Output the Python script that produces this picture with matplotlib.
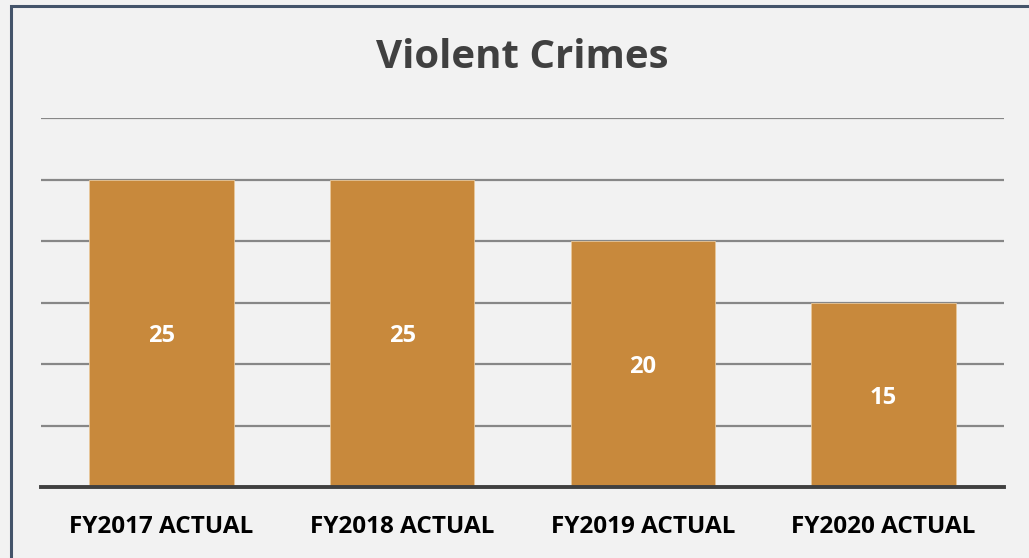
import matplotlib.pyplot as plt
from matplotlib.patches import Rectangle

categories = ['FY2017 ACTUAL', 'FY2018 ACTUAL', 'FY2019 ACTUAL', 'FY2020 ACTUAL']
values = [25, 25, 20, 15]

plt.rcParams['font.family'] = ['Open Sans', 'DejaVu Sans']

fig = plt.figure(figsize=(10.29, 5.58), dpi=100)
fig.patch.set_facecolor('#f2f2f2')

# outer frame of the chart box (runs off the right and bottom edges)
fig.patches.append(Rectangle((11 / 1029, -0.1), 1.2, 0.1 + (558 - 6) / 558,
                             transform=fig.transFigure, fill=False,
                             edgecolor='#44546a', linewidth=2.2))

ax = fig.add_axes([41 / 1029, 71 / 558, 963 / 1029, 369 / 558])
ax.set_facecolor('#f2f2f2')

x = range(len(categories))
bars = ax.bar(x, values, width=0.6, color='#c8893c', edgecolor='#e8c79a',
              linewidth=0.6, zorder=3)

for b, v in zip(bars, values):
    ax.text(b.get_x() + b.get_width() / 2, v / 2, str(v), ha='center',
            va='center_baseline', color='white', fontsize=17,
            fontweight='bold', zorder=4)

ax.set_xlim(-0.5, len(categories) - 0.5)
ax.set_ylim(0, 30)
ax.set_yticks(range(0, 31, 5))
ax.yaxis.grid(True, color='#878787', linewidth=1.6, zorder=0)
ax.tick_params(axis='y', left=False, labelleft=False)
ax.tick_params(axis='x', bottom=False, pad=17)
ax.set_xticks(list(x))
ax.set_xticklabels(categories, fontsize=17.5, fontweight='bold', color='black')

for s in ['top', 'right', 'left']:
    ax.spines[s].set_visible(False)
ax.spines['bottom'].set_color('#404040')
ax.spines['bottom'].set_linewidth(2.8)
ax.spines['bottom'].set_zorder(5)

fig.text(522 / 1029, 1 - 58 / 558, 'Violent Crimes', ha='center', va='center',
         fontsize=29, fontweight='bold', color='#404040')

fig.savefig('out.png', dpi=100, facecolor=fig.get_facecolor())
